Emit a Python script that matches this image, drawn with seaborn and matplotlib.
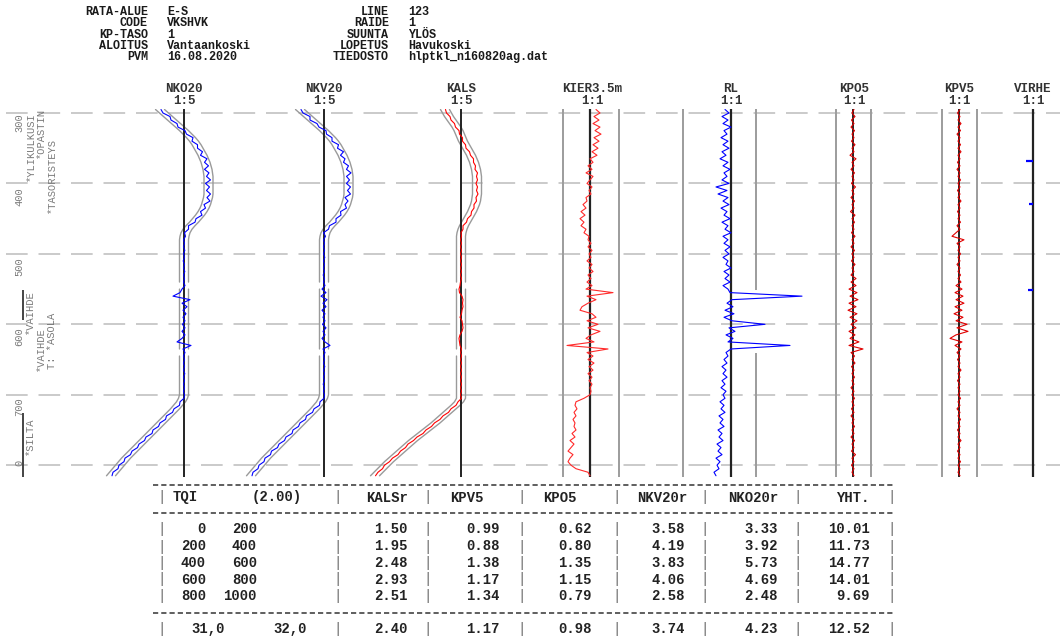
import numpy as np
import seaborn as sns
import matplotlib.pyplot as plt

sns.set_theme(style="white")
plt.rcParams['font.family'] = ['Liberation Mono', 'DejaVu Sans Mono']

W, H = 1060, 642

# distance along the track (m), one sample every 5 m
dist = np.arange(295, 820, 5)

# design geometry (curve) for NKO20 / NKV20 and KALS, display units
geom_nk = [-24, -20, -16, -12, -8, -4, 0, 3.5, 7, 10,
           12.5, 14.5, 16.5, 18.5, 20, 21.5, 22.5, 23.5, 24, 24.5,
           24.5, 24.5, 24.5, 24.5, 24.5, 24, 23, 22, 20.5, 18.5,
           16, 13, 10, 6.5, 3.5, 1.5, 0.5, 0, 0, 0,
           0, 0, 0, 0, 0, 0, 0, 0, 0, 0,
           0, 0, 0, 0, 0, 0, 0, 0, 0, 0,
           0, 0, 0, 0, 0, 0, 0, 0, 0, 0,
           0, 0, 0, 0, 0, 0, 0, 0, 0, 0,
           0, 0, -1, -3, -6, -9, -12.5, -16, -19.5, -23,
           -26.5, -30, -33.5, -37, -40.5, -44, -47.5, -51, -54.5, -58,
           -61, -64, -67, -70, -73]
geom_kals = [-16, -14, -12, -9.5, -7, -4.5, -2.5, -1, 0.5, 2,
             4, 6, 8, 10, 11.5, 13, 14, 15, 15.5, 16,
             16, 16, 16, 16, 16, 15.5, 15, 14, 12.5, 11,
             9, 7, 5, 3, 1.5, 0.5, 0, 0, 0, 0,
             0, 0, 0, 0, 0, 0, 0, 0, 0, 0,
             0, 0, 0, 0, 0, 0, 0, 0, 0, 0,
             0, 0, 0, 0, 0, 0, 0, 0, 0, 0,
             0, 0, 0, 0, 0, 0, 0, 0, 0, 0,
             0, 0, 0, -2, -5.5, -9.5, -13.5, -17.5, -21.5, -25.5,
             -30, -34.5, -39, -43.5, -48, -52, -56, -60, -64, -68,
             -72, -75.5, -79, -82.5, -86]

# measured minus design
nko20_res = [1, -1, 2, -1, 1, -2, 1, -1, 2, -2,
             1, -1, 2, -2, 3, -1, 2, -3, 1, -2,
             2, -3, 1, -2, 2, -1, 3, -2, 1, -2,
             2, -1, 1, -2, 1, -1, 1, -0.5, 0.5, -0.5,
             0.8, -0.5, 0.5, -0.8, 0.5, -0.5, 0.8, -0.5, 0.5, -0.5,
             1, -2, -4, -11, 6, -2, 3, -1, 2, -1,
             1, -1.5, 1, -2, 1, -2, -7, 7, -1, 1,
             -0.5, 0.5, -0.5, 0.5, -0.5, 0.8, -0.5, 0.5, -0.5, 0.5,
             -0.5, 0.5, 1, -1, 1.5, -1, 1, -1.5, 1, -1,
             1, -1, 1.5, -1, 1, -1, 1, -1, 1, -1,
             1, -1, 1, -1, 1]
nkv20_res = [1, -1, 2, -2, 1, -1, 2, -1, 1, -2,
             2, -1, 3, -2, 1, -2, 2, -1, 3, -2,
             1, -2, 2, -1, 2, -3, 1, -1, 2, -2,
             1, -1, 2, -1, 1, -2, 1, -0.5, 0.5, -0.5,
             0.5, -0.5, 0.8, -0.5, 0.5, -0.5, 0.5, -0.8, 0.5, -0.5,
             1, -2, 2, -3, 3, -1, 2, -2, 1, -1,
             1, -1.5, 2, -1, 1, -2, 1, 6, -1, 1,
             -0.5, 0.5, -0.5, 0.8, -0.5, 0.5, -0.5, 0.5, -0.8, 0.5,
             -0.5, 0.5, 1, -1, 1.5, -1, 1, -1.5, 1, -1,
             1, -1, 1.5, -1, 1, -1, 1, -1.5, 1, -1,
             1, -1, 1, -1, 1]
kals_res = [0.5, -0.5, 1, -0.5, 0.5, -1, 0.5, -0.5, 1, -0.5,
            0.5, -1, 0.5, -0.5, 1, -0.5, 0.5, -1, 1, -0.5,
            0.5, -1, 0.5, -0.5, 1, -0.5, 0.5, -1, 0.5, -0.5,
            1, -0.5, 0.5, -1, 0.5, -0.5, 0.5, -0.5, 0.5, -0.5,
            0.5, -0.5, 0.5, -0.5, 0.5, -0.5, 0.5, -0.5, 0.5, -0.5,
            -1, -2, -1.5, 1, 2, 1.5, 2, 1, 0.5, -1,
            1, 1.5, 2, 1, -1, -2, -1.5, -1, 0.5, -0.5,
            0.5, -0.5, 0.5, -0.5, 0.5, -0.5, 0.5, -0.5, 0.5, -0.5,
            0.5, -0.5, 0.5, -1, 0.5, -0.5, 1, -0.5, 0.5, -1,
            0.5, -0.5, 1, -0.5, 0.5, -1, 0.5, -0.5, 1, -0.5,
            0.5, -1, 0.5, -0.5, 0.5]
kier_sig = [6, 10, 4, 9, 3, 10, 5, 11, 4, 9,
            3, 8, 2, 7, 0, 3, -2, 2, -4, 3,
            0, -3, 2, -1, 1, -4, -3, -7, -4, -9,
            -5, -10, -6, -9, -4, -6, -1, -2, 1, -2,
            2, -1, 1, -3, 2, -1, 3, -2, 1, -3,
            2, -4, 23, -3, 6, -2, -8, -10, 2, 6,
            -3, 8, -2, 10, 1, -4, 4, -23, 18, -3,
            3, -2, 4, -1, 3, -2, 2, -1, 2, 0,
            1, 0, -6, -14, -15, -13, -16, -14, -17, -15,
            -16, -14, -18, -15, -20, -16, -19, -22, -17, -20,
            -22, -19, -14, -2, 0]
rl_sig = [-6, -2, -9, -3, -8, 0, -7, -4, -10, -3,
          -8, -2, -9, -5, -11, -3, -8, -1, -7, -4,
          -9, -2, -15, -4, -13, -3, -8, -2, -10, -4,
          -7, -1, -9, -3, -6, 0, -8, -3, -7, -1,
          -6, -2, -8, -3, -5, 0, -7, -2, -6, -1,
          -8, -3, -1, 71, 1, -4, 2, -6, 3, -7,
          1, 34, -2, 4, -5, 2, -3, 59, 0, -5,
          -3, -7, -4, -9, -5, -8, -4, -9, -6, -10,
          -5, -8, -6, -11, -7, -10, -6, -12, -8, -11,
          -7, -13, -9, -12, -8, -14, -10, -13, -9, -15,
          -11, -14, -12, -17, -15]
kpo5_sig = [1, -1, 2, -1.5, 1, -2, 1.5, -1, 1, -1.5,
            2, -1, 1, -3, 3, -1, 1, -2, 1.5, -1,
            1, -1.5, 2.5, -1, 1, -2, 1.5, -1, 1, -2.5,
            2, -1, 1.5, -1, 1, -1.5, 2, -1, 1, -2,
            1.5, -1, 1, -1.5, 2, -1, 1, -2, 3, -2,
            3, -4, 4, -3, 5, -4, 3, -5, 4, -3,
            4, -2, 3, -4, 2, -3, 6, -4, 10, -2,
            1.5, -1, 2, -1.5, 1, -1, 1.5, -1, 1, -2,
            1, -1, 1.5, -1, 1, -1.5, 1, -2, 1, -1,
            1.5, -1, 1, -2, 1.5, -1, 1, -1.5, 2.5, -1,
            1, -1.5, 1, -1, 1]
kpv5_sig = [1, -1.5, 1, -1, 2, -1, 1.5, -2, 1, -1,
            1.5, -1, 2, -1, 1, -1.5, 1, -2, 1, -1,
            1.5, -1, 1, -1.5, 1, -1, 2, -1, 1, -1.5,
            1, -1, 1.5, -2, 1, -3, -7, 5, -2, 1,
            -1, 1.5, -1, 1, -2, 1, -1, 1.5, -1, 2,
            -3, 3, -4, 4, -3, 5, -4, 3, -5, 4,
            -3, 8, -2, 9, -3, -9, 3, -4, 2, -2,
            1, -1.5, 1, -1, 2, -1, 1, -1.5, 1, -1,
            1, -1, 1.5, -1, 1, -2, 1, -1, 1.5, -1,
            1, -1.5, 1, -1, 2, -1, 1, -1.5, 1, -1,
            1.5, -1, 1, -1, 1]

virhe_km = [368, 429, 551]
virhe_len = [7, 4, 5]

grid_km = [300, 400, 500, 600, 700, 800]
axis_labels = ['300', '400', '500', '600', '700', '0']
axis_label_km = [300, 405, 505, 604, 704, 792]
event_names = ['*YLIKULKUSI', '*OPASTIN', '*TASORISTEYS', '*VAIHDE', '*VAIHDE', 'T: *ASOLA', '*SILTA']
event_km = [299, 293, 335, 551, 604, 584, 732]
event_x = [31, 41, 52, 30, 41, 52, 30]
event_bar_from = [551, 726]
event_bar_to = [594, 817]
env_gaps = [545, 640]
rl_gap = (551, 641)

track_names = ['NKO20', 'NKV20', 'KALS', 'KIER3.5m', 'RL', 'KPO5', 'KPV5', 'VIRHE']
track_scales = ['1:5', '1:5', '1:5', '1:1', '1:1', '1:1', '1:1', '1:1']

head_left = ['RATA-ALUE', 'CODE', 'KP-TASO', 'ALOITUS', 'PVM']
head_left_val = ['E-S', 'VKSHVK', '1', 'Vantaankoski', '16.08.2020']
head_right = ['LINE', 'RAIDE', 'SUUNTA', 'LOPETUS', 'TIEDOSTO']
head_right_val = ['123', '1', 'YLÖS', 'Havukoski', 'hlptkl_n160820ag.dat']

tqi_from = [0, 200, 400, 600, 800]
tqi_to = [200, 400, 600, 800, 1000]
tqi_cols = ['KALSr', 'KPV5', 'KPO5', 'NKV20r', 'NKO20r', 'YHT.']
tqi_kalsr = [1.50, 1.95, 2.48, 2.93, 2.51]
tqi_kpv5 = [0.99, 0.88, 1.38, 1.17, 1.34]
tqi_kpo5 = [0.62, 0.80, 1.35, 1.15, 0.79]
tqi_nkv20r = [3.58, 4.19, 3.83, 4.06, 2.58]
tqi_nko20r = [3.33, 3.92, 5.73, 4.69, 2.48]
tqi_yht = [10.01, 11.73, 14.77, 14.01, 9.69]
tqi_total = [2.40, 1.17, 0.98, 3.74, 4.23, 12.52]
tqi_total_range = ['31,0', '32,0']

# ---------------- layout (pixels) ----------------
Y0, PXM = 113, 0.7044      # y pixel of 300 m, pixels per metre
D_TOP, D_BOT = 295, 817


def d2y(d):
    return Y0 + (d - 300) * PXM


top, bot = d2y(D_TOP), d2y(D_BOT)
fig = plt.figure(figsize=(W / 100, H / 100), dpi=100)
fig.patch.set_facecolor('white')


def ftext(x, y, s, **kw):
    fig.text(x / W, 1 - y / H, s, **kw)


def frule(x0, x1, y):
    # dashed rule of the printed table
    fig.add_artist(plt.Line2D([x0 / W, x1 / W], [1 - y / H] * 2, transform=fig.transFigure,
                              color='#333333', lw=1.1, linestyle=(0, (3.4, 2.0))))


def band_ax(left, width):
    ax = fig.add_axes([left / W, 1 - bot / H, width / W, (bot - top) / H])
    ax.set_ylim(D_BOT, D_TOP)
    ax.set_axis_off()
    ax.patch.set_alpha(0)
    return ax


def track_ax(cx, half):
    ax = band_ax(cx - half, 2 * half)
    ax.set_xlim(-half, half)
    return ax


GRID_C = '#c6c6c6'
ENV_C = '#9a9a9a'
BND_C = '#9c9c9c'
CTR_C = '#222222'
BLUE = '#0000ff'
RED = '#ff0000'

# background: dashed km grid and left axis labels
bg = band_ax(0, W)
bg.set_xlim(0, W)
bg.hlines(grid_km, 6, W, colors=GRID_C, lw=1.3, linestyles=(0, (12, 6)))
for lab, km in zip(axis_labels, axis_label_km):
    bg.text(19, km, lab, rotation=90, ha='center', va='top', fontsize=7.5, color='#7a7a7a')
for name, km, x in zip(event_names, event_km, event_x):
    bg.text(x, km, name, rotation=90, ha='center', va='top', fontsize=7.5, color='#7a7a7a',
            clip_on=False)
bg.vlines([23] * len(event_bar_from), event_bar_from, event_bar_to, colors='#444444', lw=1.4)

dist_env = dist.astype(float)


def with_gaps(vals):
    v = np.asarray(vals, float).copy()
    for g in env_gaps:
        v[np.argmin(np.abs(dist_env - g))] = np.nan
    return v


def curve_track(cx, geom, res, color):
    ax = track_ax(cx, 95)
    g = with_gaps(geom)
    ax.plot(g - 4.5, dist, color=ENV_C, lw=1.0)
    ax.plot(g + 4.5, dist, color=ENV_C, lw=1.0)
    ax.axvline(0, color=CTR_C, lw=1.4)
    meas = np.asarray(geom, float) + np.asarray(res, float)
    sns.lineplot(x=meas, y=dist, orient='y', sort=False, estimator=None,
                 color=color, lw=0.8, ax=ax)
    ax.set_axis_off()
    return ax


curve_track(184, geom_nk, nko20_res, BLUE)
curve_track(324, geom_nk, nkv20_res, BLUE)
curve_track(461, geom_kals, kals_res, RED)

# KIER3.5m
ax = track_ax(590, 60)
for b in (-27, 29):
    ax.axvline(b, color=BND_C, lw=1.4)
ax.axvline(0, color=CTR_C, lw=1.6)
sns.lineplot(x=kier_sig, y=dist, orient='y', sort=False, estimator=None,
             color='#ff2a2a', lw=0.8, ax=ax)
ax.set_axis_off()

# RL
ax = track_ax(731, 80)
ax.axvline(-48, color=BND_C, lw=1.4)
ax.vlines([25, 25], [D_TOP, rl_gap[1]], [rl_gap[0], D_BOT], colors=BND_C, lw=1.4)
ax.axvline(0, color=CTR_C, lw=1.6)
sns.lineplot(x=rl_sig, y=dist, orient='y', sort=False, estimator=None,
             color=BLUE, lw=0.8, ax=ax)
ax.set_axis_off()

# KPO5, KPV5
for cx, sig in ((853, kpo5_sig), (959, kpv5_sig)):
    ax = track_ax(cx, 30)
    ax.axvline(-17, color=BND_C, lw=1.4)
    ax.axvline(18, color=BND_C, lw=1.4)
    ax.axvline(0, color=CTR_C, lw=1.4)
    sns.lineplot(x=sig, y=dist, orient='y', sort=False, estimator=None,
                 color='#e00000', lw=0.8, ax=ax)
    ax.set_axis_off()

# VIRHE
ax = track_ax(1033, 25)
ax.axvline(0, color=CTR_C, lw=1.6)
ax.hlines(virhe_km, [-l for l in virhe_len], 0, colors=BLUE, lw=1.6)

# track titles
title_x = [184, 324, 461, 592, 731, 854, 959, 1033]
for x, n, s in zip(title_x, track_names, track_scales):
    ftext(x, 89, n, ha='center', va='center', fontsize=9, weight='bold', color='#333333')
    ftext(x, 101, s, ha='center', va='center', fontsize=9, weight='bold', color='#333333')

# header block
head_rows = [12, 23.25, 34.5, 45.75, 57]
for y, a, b, c, d in zip(head_rows, head_left, head_left_val, head_right, head_right_val):
    kw = dict(va='center', fontsize=8.5, weight='bold', color='#1a1a1a')
    ftext(148, y, a, ha='right', **kw)
    ftext(167, y, b, ha='left', **kw)
    ftext(389, y, c, ha='right', **kw)
    ftext(408, y, d, ha='left', **kw)

# TQI table
tk = dict(va='center', fontsize=10, weight='bold', color='#222222')
pipes = [162, 338, 428, 522, 617, 705, 798, 892]
val_right = [408, 500, 592, 685, 778, 870]
for y in (485, 512.5, 613):
    frule(153, 893, y)


def pipe_row(y):
    for px in pipes:
        ftext(px, y, '|', ha='center', color='#666666', va='center', fontsize=10)


pipe_row(497.5)
ftext(173, 497.5, 'TQI', ha='left', **tk)
ftext(252, 497.5, '(2.00)', ha='left', **tk)
head_pos = [('right', 408), ('left', 450), ('left', 543), ('right', 687), ('right', 778), ('right', 870)]
for (ha, x), col in zip(head_pos, tqi_cols):
    ftext(x, 497.5, col, ha=ha, **tk)

row_y = [529, 546.5, 563, 579.5, 596]
cols = [tqi_kalsr, tqi_kpv5, tqi_kpo5, tqi_nkv20r, tqi_nko20r, tqi_yht]
for i, y in enumerate(row_y):
    pipe_row(y)
    ftext(206, y, str(tqi_from[i]), ha='right', **tk)
    ftext(257, y, str(tqi_to[i]), ha='right', **tk)
    for x, col in zip(val_right, cols):
        ftext(x, y, f'{col[i]:.2f}', ha='right', **tk)

pipe_row(629)
ftext(225, 629, tqi_total_range[0], ha='right', **tk)
ftext(307, 629, tqi_total_range[1], ha='right', **tk)
for x, v in zip(val_right, tqi_total):
    ftext(x, 629, f'{v:.2f}', ha='right', **tk)

fig.savefig('out.png', dpi=100, facecolor='white')
